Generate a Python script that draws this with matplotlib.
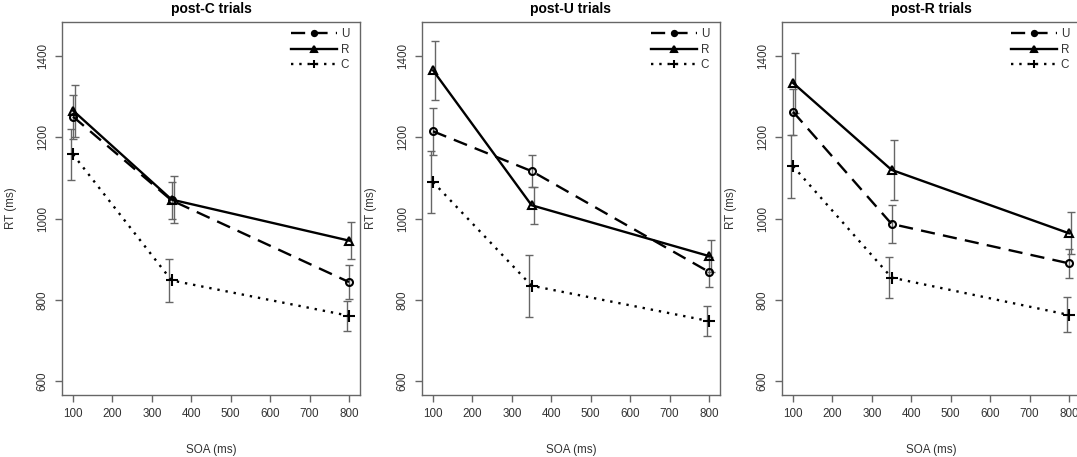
import matplotlib
matplotlib.use("Agg")
import matplotlib.pyplot as plt
from matplotlib.lines import Line2D

plt.rcParams['font.family'] = ['Liberation Sans', 'DejaVu Sans']

soa = [100, 350, 800]
panels = ["post-C trials", "post-U trials", "post-R trials"]
conditions = ["U", "R", "C"]

# means per panel, per condition
mean_U = [[1251, 1045, 844], [1215, 1117, 869], [1263, 987, 890]]
mean_R = [[1266, 1047, 946], [1365, 1033, 908], [1334, 1120, 964]]
mean_C = [[1158, 848, 761], [1090, 835, 748], [1129, 855, 763]]
# error bar half-widths
err_U = [[54, 45, 42], [58, 40, 36], [56, 47, 36]]
err_R = [[64, 58, 45], [72, 45, 40], [74, 74, 52]]
err_C = [[62, 52, 37], [76, 76, 36], [77, 50, 43]]

yticks = [600, 800, 1000, 1200, 1400]
xticks = [100, 200, 300, 400, 500, 600, 700, 800]

means = {"U": mean_U, "R": mean_R, "C": mean_C}
errs = {"U": err_U, "R": err_R, "C": err_C}
styles = {
    "U": dict(ls=(0, (6, 3.5)), marker="o", ms=5.0),
    "R": dict(ls="-", marker="^", ms=6.0),
    "C": dict(ls=(0, (1.0, 2.5)), marker="+", ms=8),
}
offsets = {"U": 0, "R": 6, "C": -6}
gray = "#666666"

W, H = 1077, 457
fig = plt.figure(figsize=(W / 100, H / 100), dpi=100)

for i, title in enumerate(panels):
    ax = fig.add_axes([(62 + 360 * i) / W, 62 / H, 298 / W, 373 / H])
    for c in conditions:
        st = styles[c]
        m = means[c][i]
        e = errs[c][i]
        xe = [x + offsets[c] for x in soa]
        ax.errorbar(xe, m, yerr=e, fmt="none", ecolor=gray, elinewidth=1.0,
                    capsize=2.6, capthick=1.0, zorder=2)
        ax.plot(soa, m, color="black", lw=1.7, linestyle=st["ls"],
                marker=st["marker"], ms=st["ms"], mfc="none", mec="black",
                mew=1.5, zorder=3)
    ax.set_xlim(72, 828)
    ax.set_ylim(566, 1484)
    ax.set_xticks(xticks)
    ax.set_yticks(yticks)
    ax.set_yticklabels([str(v) for v in yticks], rotation=90, va="center")
    ax.tick_params(direction="out", length=5, width=1, colors=gray,
                   labelcolor="#333333", labelsize=8.4, pad=4.5)
    for sp in ax.spines.values():
        sp.set_color(gray)
        sp.set_linewidth(1)
    ax.set_title(title, fontsize=10, fontweight="bold", y=1.035, va="center",
                 pad=0)
    ax.set_xlabel("SOA (ms)", fontsize=8.4, color="#333333")
    ax.xaxis.set_label_coords(0.5, -0.131)
    ax.set_ylabel("RT (ms)", fontsize=8.4, color="#333333")
    ax.yaxis.set_label_coords(-0.152, 0.5)

    handles = []
    for c in conditions:
        st = styles[c]
        handles.append(Line2D([0], [0], color="black", lw=1.7,
                              linestyle=st["ls"], marker=st["marker"],
                              ms=st["ms"] * 0.75, mfc="black", mec="black",
                              mew=1.5))
    leg = ax.legend(handles, conditions, loc="upper right", frameon=False,
                    fontsize=8.4, handlelength=4.0, handletextpad=0.3,
                    labelspacing=0.28, borderaxespad=0.15,
                    bbox_to_anchor=(0.985, 1.0))
    for t in leg.get_texts():
        t.set_color("#333333")

fig.savefig("out.png", dpi=100)
